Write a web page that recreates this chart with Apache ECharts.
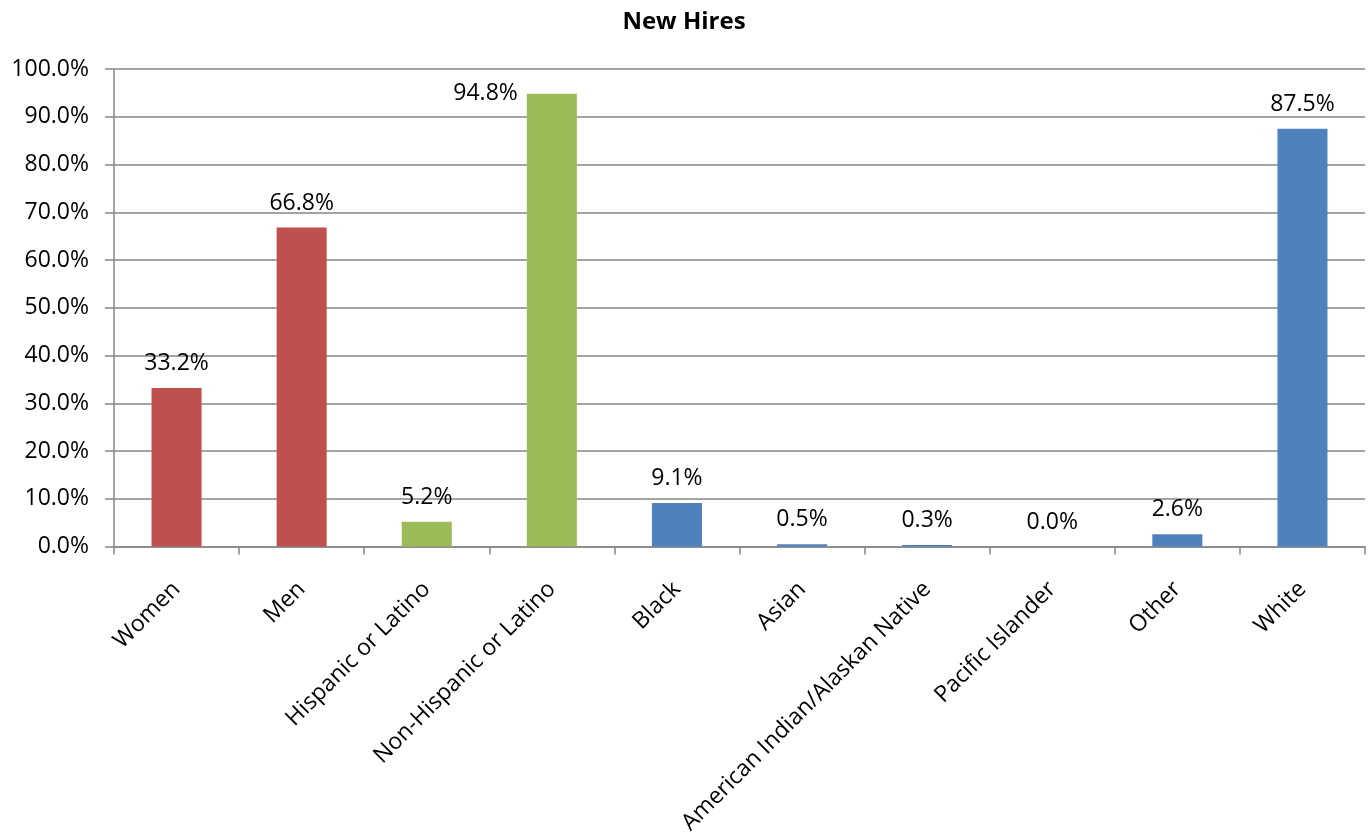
<!DOCTYPE html>
<html>
<head>
<meta charset="utf-8">
<script src="https://cdn.jsdelivr.net/npm/echarts@6/dist/echarts.min.js"></script>
<style>
html,body{margin:0;padding:0;background:#fff;}
#chart{width:1368px;height:837px;}
</style>
</head>
<body>
<div id="chart"></div>
<script>
const titleText = 'New Hires';
const categories = ['Women', 'Men', 'Hispanic or Latino', 'Non-Hispanic or Latino', 'Black', 'Asian', 'American Indian/Alaskan Native', 'Pacific Islander', 'Other', 'White'];
const values = [33.2, 66.8, 5.2, 94.8, 9.1, 0.5, 0.3, 0.0, 2.6, 87.5];
const groups = ['gender', 'gender', 'ethnicity', 'ethnicity', 'race', 'race', 'race', 'race', 'race', 'race'];
const yTicks = [0, 10, 20, 30, 40, 50, 60, 70, 80, 90, 100];

const groupColors = { gender: '#C0504D', ethnicity: '#9BBB59', race: '#4F81BD' };
const FONT = '"Open Sans", sans-serif';

const seriesData = values.map((v, i) => {
  const d = { value: v, itemStyle: { color: groupColors[groups[i]] } };
  if (v > 92) {
    d.label = { position: 'insideTopLeft', distance: 0, align: 'right', verticalAlign: 'middle', offset: [-9, 0] };
  }
  return d;
});

const chart = echarts.init(document.getElementById('chart'), null, { renderer: 'canvas' });
chart.setOption({
  animation: false,
  backgroundColor: '#ffffff',
  title: {
    text: titleText,
    left: 'center',
    top: 5,
    textStyle: { fontFamily: FONT, fontSize: 24, fontWeight: 'bold', color: '#000' }
  },
  grid: { left: 114, right: 3, top: 69, bottom: 290, containLabel: false },
  xAxis: {
    type: 'category',
    data: categories,
    boundaryGap: true,
    axisLine: { show: true, lineStyle: { color: '#868686', width: 1.5 } },
    axisTick: { show: true, alignWithLabel: false, length: 8, lineStyle: { color: '#868686', width: 1.5 } },
    axisLabel: { interval: 0, rotate: 45, margin: 39, fontFamily: FONT, fontSize: 23, color: '#000' },
    splitLine: { show: false }
  },
  yAxis: {
    type: 'value',
    min: yTicks[0],
    max: yTicks[yTicks.length - 1],
    interval: yTicks[1] - yTicks[0],
    axisLine: { show: true, lineStyle: { color: '#868686', width: 1.5 } },
    axisTick: { show: true, length: 9, lineStyle: { color: '#868686', width: 1.5 } },
    axisLabel: { margin: 25, fontFamily: FONT, fontSize: 23, color: '#000', formatter: v => v.toFixed(1) + '%' },
    splitLine: { show: true, lineStyle: { color: '#868686', width: 1.5 } }
  },
  series: [{
    type: 'bar',
    data: seriesData,
    barWidth: '40%',
    label: {
      show: true,
      position: 'top',
      distance: 13,
      fontFamily: FONT,
      fontSize: 23,
      color: '#000',
      formatter: p => p.value.toFixed(1) + '%'
    }
  }]
});
</script>
</body>
</html>
